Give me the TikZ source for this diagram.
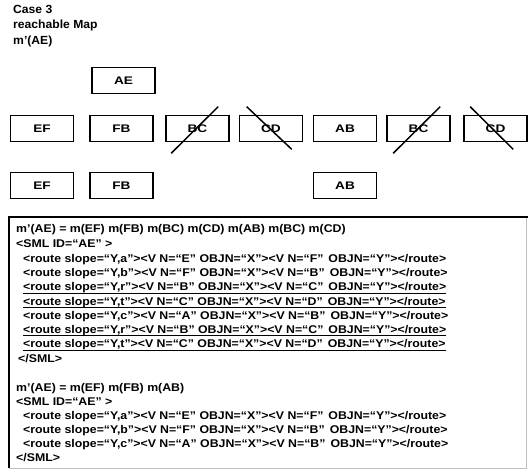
\documentclass[tikz,border=0pt]{standalone}
\usepackage{fontspec}
\setmainfont{Liberation Sans}
\usetikzlibrary{calc}
\tikzset{
  mapbox/.style={draw, line width=1.6pt, minimum width=63pt, minimum height=26pt, inner sep=0pt, font=\fontsize{11}{12}\selectfont\bfseries\addfontfeature{FakeStretch=1.24}},
  cross/.style={line width=1.5pt},
  title/.style={anchor=north west, align=left, inner sep=0pt, font=\fontsize{11.8}{15.5}\selectfont\bfseries\addfontfeature{FakeStretch=1.03}},
  codeline/.style={anchor=base west, inner sep=0pt, font=\fontsize{11.2}{12}\selectfont\bfseries\addfontfeature{FakeStretch=1.1}},
  uline/.style={line width=0.9pt}
}
\newcommand{\wsp}{\hspace{0.45em}}
\begin{document}
\begin{tikzpicture}[x=1pt,y=-1pt]
\useasboundingbox (0,0) rectangle (528,470);
\node[title] (title) at (13,5) {Case 3\\reachable Map\\m'(AE)};
% top box
\node[mapbox] (ae) at (123.5,80.5) {AE};
% row 1
\node[mapbox] (ef1) at (42,128.5) {EF};
\node[mapbox] (fb1) at (121.5,128.5) {FB};
\node[mapbox] (bc1) at (197.5,128.5) {BC};
\node[mapbox] (cd1) at (271,128.5) {CD};
\node[mapbox] (ab1) at (345,128.5) {AB};
\node[mapbox] (bc2) at (418.5,128.5) {BC};
\node[mapbox] (cd2) at (495.5,128.5) {CD};
% crosses
\draw[cross] ($(bc1.south west)+(6,11)$) -- ($(bc1.north west)+(53,-8)$);
\draw[cross] ($(bc2.south west)+(7,11)$) -- ($(bc2.north west)+(54,-8)$);
\draw[cross] ($(cd1.north west)+(8,-8)$) -- ($(cd1.south west)+(53,7)$);
\draw[cross] ($(cd2.north west)+(7,-8)$) -- ($(cd2.south west)+(50,7)$);
% row 2
\node[mapbox] (ef2) at (42,185.5) {EF};
\node[mapbox] (fb2) at (121.5,185.5) {FB};
\node[mapbox] (ab2) at (345,185.5) {AB};
% big box
\draw[line width=0.6pt, black!25] (526,217) -- (526,468) -- (9,468);
\draw[line width=2pt] (9,468) -- (9,217) -- (528,217);
% text block 1
\node[codeline] (l1) at (16,232.5) {m'(AE) = m(EF) m(FB) m(BC) m(CD) m(AB) m(BC) m(CD)};
\node[codeline] (l2) at (16,247.5) {<SML ID=“AE” >};
\node[codeline] (r1) at (23,262.5) {<route slope=“Y,a”><V N=“E” OBJN=“X”><V N=“F”\wsp OBJN=“Y”></route>};
\node[codeline] (r2) at (23,277) {<route slope=“Y,b”><V N=“F” OBJN=“X”><V N=“B”\wsp OBJN=“Y”></route>};
\node[codeline] (r3) at (23,291) {<route slope=“Y,r”><V N=“B” OBJN=“X”><V N=“C”\wsp OBJN=“Y”></route>};
\node[codeline] (r4) at (23,305.5) {<route slope=“Y,t”><V N=“C” OBJN=“X”><V N=“D”\wsp OBJN=“Y”></route>};
\node[codeline] (r5) at (23,319.5) {<route slope=“Y,c”><V N=“A” OBJN=“X”><V N=“B”\wsp OBJN=“Y”></route>};
\node[codeline] (r6) at (23,333.5) {<route slope=“Y,r”><V N=“B” OBJN=“X”><V N=“C”\wsp OBJN=“Y”></route>};
\node[codeline] (r7) at (23,348) {<route slope=“Y,t”><V N=“C” OBJN=“X”><V N=“D”\wsp OBJN=“Y”></route>};
\node[codeline] (l3) at (18,362.5) {</SML>};
\foreach \r in {r3,r4,r6,r7}
  \draw[uline] ([yshift=-2.4pt]\r.base west) -- ([yshift=-2.4pt]\r.base east);
% text block 2
\node[codeline] (m1) at (16,392) {m'(AE) = m(EF) m(FB) m(AB)};
\node[codeline] (m2) at (16,406) {<SML ID=“AE” >};
\node[codeline] (s1) at (23,420) {<route slope=“Y,a”><V N=“E” OBJN=“X”><V N=“F”\wsp OBJN=“Y”></route>};
\node[codeline] (s2) at (23,434) {<route slope=“Y,b”><V N=“F” OBJN=“X”><V N=“B”\wsp OBJN=“Y”></route>};
\node[codeline] (s3) at (23,448) {<route slope=“Y,c”><V N=“A” OBJN=“X”><V N=“B”\wsp OBJN=“Y”></route>};
\node[codeline] (m3) at (16,462) {</SML>};
\end{tikzpicture}
\end{document}
